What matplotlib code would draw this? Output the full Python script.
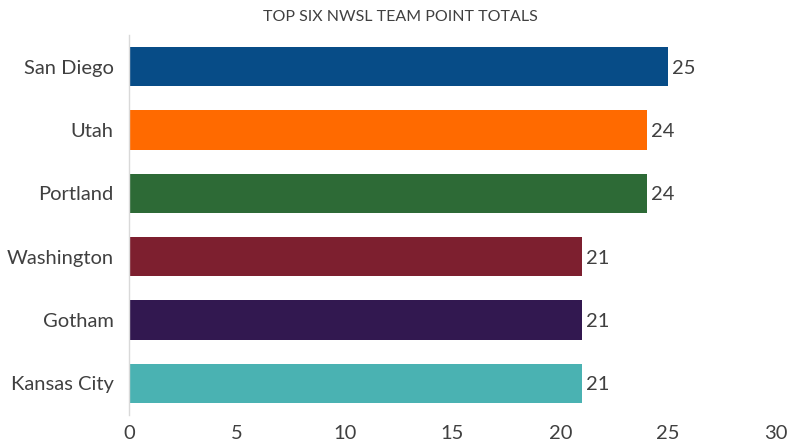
import matplotlib.pyplot as plt

teams = ['San Diego', 'Utah', 'Portland', 'Washington', 'Gotham', 'Kansas City']
points = [25, 24, 24, 21, 21, 21]
colors = ['#074C87', '#FF6A00', '#2D6A36', '#7D1F2F', '#321850', '#4AB2B2']
x_ticks = [0, 5, 10, 15, 20, 25, 30]

plt.rcParams['font.family'] = ['Lato', 'DejaVu Sans']

fig = plt.figure(figsize=(8, 4.47), dpi=100)
ax = fig.add_axes([0.1613, 0.0716, 0.8087, 0.8501])

y = list(range(len(teams)))
ax.barh(y, points, height=0.62, color=colors)
for yi, v in zip(y, points):
    ax.text(v + 0.2, yi, str(v), va='center_baseline', ha='left', fontsize=14.5, color='#404040')

ax.set_ylim(len(teams) - 0.5, -0.5)
ax.set_xlim(0, 30)
ax.set_yticks(y)
ax.set_yticklabels(teams, fontsize=14.5, color='#404040')
ax.set_xticks(x_ticks)
ax.set_xticklabels([str(t) for t in x_ticks], fontsize=14.5, color='#404040')
ax.tick_params(length=0, pad=7)
ax.tick_params(axis='y', pad=11)

for s in ['top', 'right', 'bottom']:
    ax.spines[s].set_visible(False)
ax.spines['left'].set_color('#d9d9d9')
ax.spines['left'].set_linewidth(1)

fig.text(0.5, 0.962, 'TOP SIX NWSL TEAM POINT TOTALS', ha='center', va='center',
         fontsize=11.5, color='#404040')

fig.savefig('out.png', dpi=100)
